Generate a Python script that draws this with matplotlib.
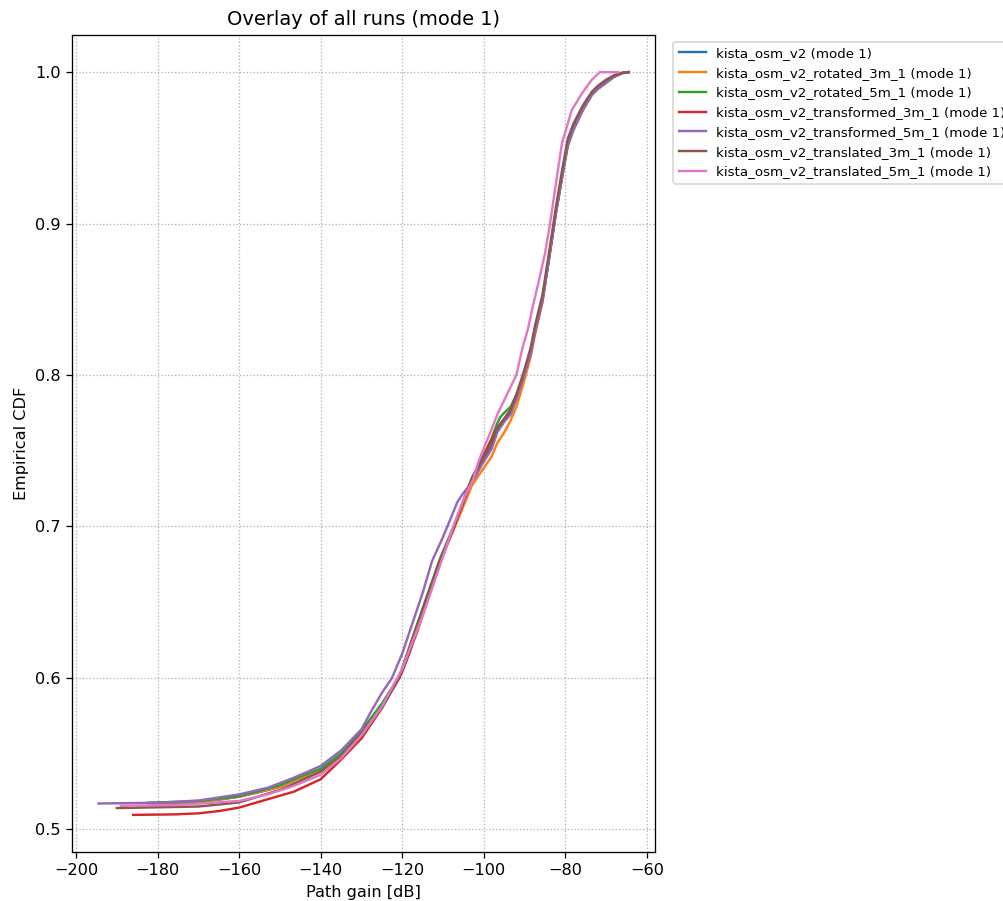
import matplotlib
matplotlib.use("Agg")
import matplotlib.pyplot as plt

# Path gain [dB] / empirical CDF points
gain_base = [-182, -175, -170, -165, -160, -155, -150, -146.6, -140, -135, -130, -126, -123,
             -120.7, -118, -116.4, -113, -110.7, -107.2, -105, -102.9, -100.4, -98.1, -96.7,
             -95, -93.4, -92, -90.2, -88.5, -87.4, -85.6, -84.5, -83.7, -82.8, -82.3, -81.5,
             -80.8, -79.4, -78, -77, -75.7, -73.5, -72, -70, -68, -66, -64.5]
cdf_base = [0.517, 0.5175, 0.518, 0.5195, 0.5215, 0.5245, 0.528, 0.532, 0.539, 0.549, 0.563,
            0.578, 0.590, 0.600, 0.618, 0.634, 0.660, 0.678, 0.700, 0.716, 0.731, 0.742,
            0.753, 0.764, 0.770, 0.775, 0.785, 0.800, 0.815, 0.830, 0.850, 0.868, 0.883,
            0.899, 0.908, 0.920, 0.932, 0.9535, 0.963, 0.970, 0.976, 0.986, 0.990, 0.994,
            0.997, 0.9995, 1.0]

gain_rot3 = [-181, -170, -160, -150, -146.6, -140, -135, -130, -125, -120.7, -116.4, -110.7,
             -107.2, -102.9, -100.4, -98.1, -96.7, -95, -93.4, -92, -90.2, -88.5, -87.4,
             -85.6, -83.7, -82.8, -82.3, -80.8, -79.4, -78, -75.7, -73.5, -72, -70, -68,
             -66, -64.5]
cdf_rot3 = [0.5175, 0.518, 0.5215, 0.528, 0.532, 0.539, 0.549, 0.563, 0.582, 0.600, 0.634,
            0.678, 0.699, 0.727, 0.737, 0.746, 0.755, 0.762, 0.770, 0.779, 0.795, 0.812,
            0.827, 0.848, 0.882, 0.898, 0.907, 0.931, 0.952, 0.962, 0.975, 0.985, 0.989,
            0.993, 0.997, 0.9995, 1.0]

gain_rot5 = [-182.5, -170, -160, -150, -146.6, -140, -135, -130, -125, -120.7, -116.4,
             -110.7, -107.2, -102.9, -100.4, -98.1, -96.7, -96, -95, -93.4, -92, -90.2,
             -88.5, -87.4, -85.6, -83.7, -82.8, -82.3, -80.8, -79.4, -78, -75.7, -73.5,
             -72, -70, -68, -66, -64.5]
cdf_rot5 = [0.5175, 0.5185, 0.5218, 0.529, 0.533, 0.540, 0.550, 0.565, 0.583, 0.601, 0.635,
            0.679, 0.701, 0.732, 0.745, 0.758, 0.768, 0.772, 0.775, 0.779, 0.787, 0.800,
            0.815, 0.829, 0.849, 0.882, 0.898, 0.907, 0.930, 0.951, 0.962, 0.975, 0.985,
            0.989, 0.993, 0.997, 0.9995, 1.0]

gain_tf3 = [-186, -176, -170, -165, -160, -153, -146.6, -140, -135, -130, -125, -120,
            -116.4, -110.7, -107.2, -102.9, -100.4, -98.1, -96.7, -95, -93.4, -92, -90.2,
            -88.5, -87.4, -85.6, -83.7, -82.8, -82.3, -80.8, -79.4, -78, -75.7, -73.5, -72,
            -70, -68, -66, -64.5]
cdf_tf3 = [0.5095, 0.5098, 0.5105, 0.512, 0.5143, 0.5198, 0.5248, 0.533, 0.546, 0.560,
           0.580, 0.604, 0.630, 0.676, 0.700, 0.731, 0.745, 0.757, 0.765, 0.771, 0.777,
           0.786, 0.800, 0.815, 0.830, 0.850, 0.883, 0.899, 0.908, 0.932, 0.9535, 0.963,
           0.976, 0.986, 0.990, 0.994, 0.997, 0.9995, 1.0]

gain_tf5 = [-194.5, -180, -170, -160, -153, -146.6, -140, -135, -130, -127.8, -125, -122.5,
            -120, -118, -115, -112.7, -110, -108, -106.5, -105, -103.5, -102, -100.4, -98.1,
            -96.7, -95, -93.4, -92, -90.2, -88.5, -87.4, -85.6, -83.7, -82.8, -82.3, -80.8,
            -79.4, -78, -75.7, -73.5, -72, -70, -68, -66, -64.5]
cdf_tf5 = [0.517, 0.5175, 0.519, 0.523, 0.5274, 0.534, 0.5418, 0.552, 0.566, 0.577, 0.590,
           0.600, 0.616, 0.632, 0.656, 0.677, 0.693, 0.706, 0.716, 0.722, 0.727, 0.733,
           0.741, 0.751, 0.762, 0.769, 0.774, 0.784, 0.799, 0.814, 0.829, 0.849, 0.882,
           0.898, 0.907, 0.931, 0.952, 0.962, 0.975, 0.985, 0.989, 0.993, 0.997, 0.9995, 1.0]

gain_tl3 = [-190, -180, -170, -160, -150, -146.6, -140, -135, -130, -125, -120.7, -116.4,
            -110.7, -107.2, -102.9, -100.4, -98.1, -96.7, -95, -93.4, -92, -90.2, -88.5,
            -87.4, -85.6, -83.7, -82.8, -82.3, -80.8, -79.4, -78, -75.7, -73.5, -72, -70,
            -68, -66, -64.5]
cdf_tl3 = [0.514, 0.5145, 0.515, 0.5177, 0.526, 0.530, 0.538, 0.548, 0.563, 0.580, 0.600,
           0.634, 0.678, 0.701, 0.732, 0.744, 0.755, 0.765, 0.771, 0.777, 0.787, 0.802,
           0.818, 0.833, 0.853, 0.886, 0.902, 0.911, 0.935, 0.956, 0.966, 0.978, 0.987,
           0.991, 0.995, 0.998, 0.9995, 1.0]

gain_tl5 = [-189, -175, -160, -153, -146.6, -140, -135, -130, -125, -120, -115, -110,
            -107.5, -104.6, -102.6, -101.4, -99.8, -98.1, -96.5, -94.5, -92, -90.5, -89.2,
            -88, -86.5, -85, -83.8, -82, -80.8, -78.4, -75.9, -73.5, -71.5, -67]
cdf_tl5 = [0.5155, 0.516, 0.5187, 0.523, 0.5286, 0.536, 0.547, 0.562, 0.581, 0.606, 0.641,
           0.680, 0.700, 0.720, 0.731, 0.742, 0.753, 0.764, 0.775, 0.786, 0.800, 0.818,
           0.830, 0.845, 0.862, 0.880, 0.899, 0.932, 0.9535, 0.975, 0.986, 0.995, 1.0, 1.0]

runs = [
    ("kista_osm_v2 (mode 1)", gain_base, cdf_base),
    ("kista_osm_v2_rotated_3m_1 (mode 1)", gain_rot3, cdf_rot3),
    ("kista_osm_v2_rotated_5m_1 (mode 1)", gain_rot5, cdf_rot5),
    ("kista_osm_v2_transformed_3m_1 (mode 1)", gain_tf3, cdf_tf3),
    ("kista_osm_v2_transformed_5m_1 (mode 1)", gain_tf5, cdf_tf5),
    ("kista_osm_v2_translated_3m_1 (mode 1)", gain_tl3, cdf_tl3),
    ("kista_osm_v2_translated_5m_1 (mode 1)", gain_tl5, cdf_tl5),
]

dpi = 116
fig = plt.figure(figsize=(1003 / dpi, 901 / dpi), dpi=dpi)
ax = fig.add_axes([72 / 1003, 1 - 852 / 901, (655 - 72) / 1003, (852 - 35) / 901])

for label, g, c in runs:
    ax.plot(g, c, label=label)

ax.set_title("Overlay of all runs (mode 1)")
ax.set_xlabel("Path gain [dB]")
ax.set_ylabel("Empirical CDF")
ax.grid(True, linestyle=":")
ax.legend(loc="upper left", bbox_to_anchor=(1.02, 1), fontsize="small")

fig.savefig("out.png", dpi=dpi)
